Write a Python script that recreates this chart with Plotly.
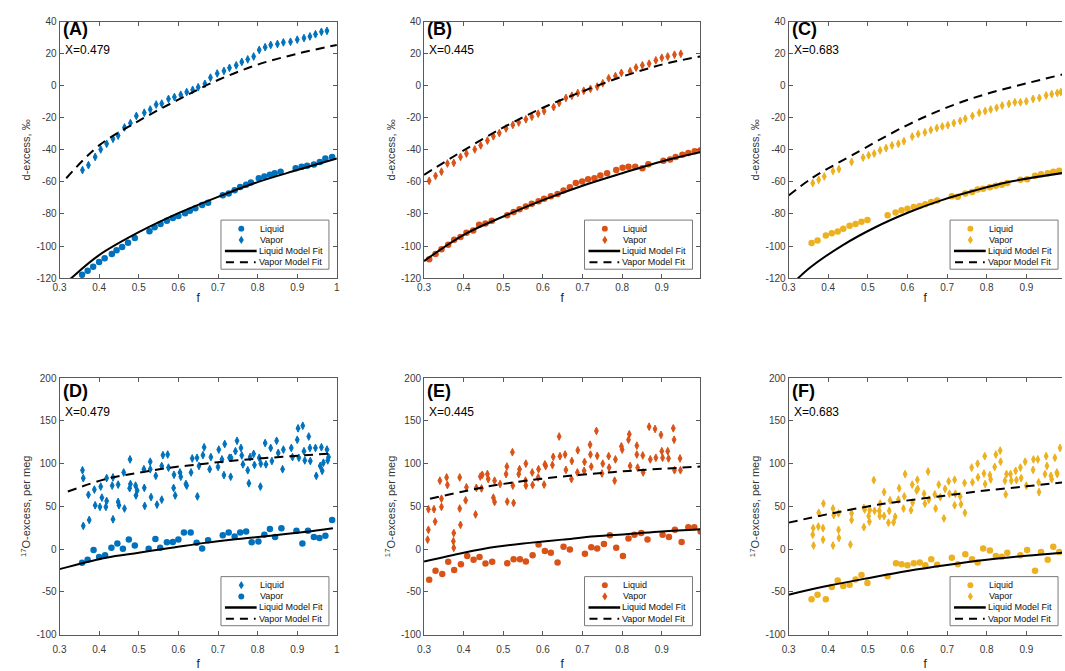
import plotly.graph_objects as go

BLUE, ORANGE, YELLOW = "#0072BD", "#D95319", "#EDB120"
FONT = "Liberation Sans, Arial, Helvetica, sans-serif"
AXC = "#5a5a5a"
TXC = "#3a3a3a"

# ---------------- tick labels ----------------
X_TICKS = [0.3, 0.4, 0.5, 0.6, 0.7, 0.8, 0.9, 1.0]
X_TICK_TEXT = ["0.3", "0.4", "0.5", "0.6", "0.7", "0.8", "0.9", "1"]
Y_TICKS_DX = [-120, -100, -80, -60, -40, -20, 0, 20, 40]
Y_TICK_TEXT_DX = ["-120", "-100", "-80", "-60", "-40", "-20", "0", "20", "40"]
Y_TICKS_O17 = [-100, -50, 0, 50, 100, 150, 200]
Y_TICK_TEXT_O17 = ["-100", "-50", "0", "50", "100", "150", "200"]

PANEL_LABELS = ["(A)", "(B)", "(C)", "(D)", "(E)", "(F)"]
X_LABELS = ["X=0.479", "X=0.445", "X=0.683", "X=0.479", "X=0.445", "X=0.683"]
LEGEND_NAMES = ["Liquid", "Vapor", "Liquid Model Fit", "Vapor Model Fit"]

# ---------------- Panel A: d-excess, X=0.479 ----------------
A_LIQ = [(0.357, -118), (0.371, -115.5), (0.385, -113), (0.400, -110), (0.414, -107.7),
         (0.432, -105), (0.444, -102.6), (0.458, -100.6), (0.473, -98), (0.490, -95),
         (0.527, -90.8), (0.540, -88.3), (0.555, -86.3), (0.571, -84.2), (0.586, -82.6),
         (0.600, -81.2), (0.617, -79.5), (0.629, -78), (0.643, -76.5), (0.660, -74.4),
         (0.675, -73), (0.712, -68.3), (0.727, -67.3), (0.742, -65.2), (0.756, -63.2),
         (0.771, -61.8), (0.783, -60.3), (0.803, -57.7), (0.817, -56.6), (0.831, -55.6),
         (0.843, -54.6), (0.858, -53.6), (0.896, -51.5), (0.911, -50.5), (0.925, -49.9),
         (0.942, -49.1), (0.957, -47.5), (0.971, -45.4), (0.988, -44.4)]
A_VAP = [(0.358, -52.6), (0.373, -49.5), (0.390, -44.4), (0.404, -39.7), (0.419, -36.2),
         (0.435, -33.1), (0.448, -31.1), (0.464, -26), (0.479, -23.3), (0.494, -18.8),
         (0.514, -16.8), (0.529, -14.8), (0.544, -11.7), (0.558, -11.1), (0.575, -8.2),
         (0.590, -7), (0.606, -5.6), (0.621, -3.9), (0.636, -2.5), (0.650, -0.9),
         (0.667, 1.2), (0.681, 5.1), (0.698, 7.7), (0.715, 9.3), (0.729, 11.2),
         (0.746, 12.8), (0.760, 14.9), (0.775, 16.5), (0.790, 18.3), (0.804, 22.4),
         (0.819, 24.1), (0.833, 25.5), (0.850, 26.1), (0.865, 27.1), (0.883, 27.5),
         (0.900, 28.8), (0.917, 29.8), (0.932, 30.8), (0.946, 32.2), (0.961, 33.7),
         (0.975, 34.3)]
A_LFIT = [(0.30, -127), (0.33, -120), (0.40, -105.7), (0.50, -91.4), (0.60, -79.5),
          (0.70, -69.3), (0.80, -60.1), (0.90, -52.6), (1.00, -45.4)]
A_VFIT = [(0.317, -57.7), (0.40, -37.2), (0.50, -21.9), (0.60, -8.6), (0.70, 3.6),
          (0.80, 13.2), (0.90, 20.0), (1.00, 25.5)]

# ---------------- Panel B: d-excess, X=0.445 ----------------
B_LIQ = [(0.313, -108.3), (0.329, -105), (0.344, -102), (0.361, -99.2), (0.376, -96.1),
         (0.392, -94.4), (0.407, -91.8), (0.424, -90.4), (0.439, -86.7), (0.455, -85.9),
         (0.471, -84.2), (0.510, -80.8), (0.526, -78.7), (0.541, -77.1), (0.557, -75.4),
         (0.572, -73.6), (0.589, -72), (0.603, -70.5), (0.620, -68.9), (0.637, -67.5),
         (0.652, -65.4), (0.668, -63.4), (0.683, -60.7), (0.699, -59.7), (0.714, -58.3),
         (0.730, -57.7), (0.745, -56), (0.762, -54.6), (0.785, -52.6), (0.801, -51.1),
         (0.816, -50.5), (0.833, -50.5), (0.851, -51.5), (0.866, -48.9), (0.904, -46.8),
         (0.921, -46), (0.935, -44.4), (0.952, -43), (0.967, -41.9), (0.983, -40.9),
         (0.998, -40.3)]
B_VAP = [(0.313, -59.3), (0.329, -56.2), (0.344, -53.6), (0.359, -48.5), (0.375, -48.1),
         (0.392, -44.4), (0.407, -42.3), (0.428, -39.7), (0.443, -37.2), (0.460, -34.2),
         (0.475, -31.5), (0.490, -29.5), (0.507, -26.6), (0.524, -24.4), (0.539, -22.9),
         (0.557, -20.9), (0.572, -19.3), (0.588, -17.4), (0.603, -15.8), (0.627, -13.3),
         (0.641, -10.7), (0.658, -7.6), (0.673, -6.2), (0.688, -4.5), (0.703, -3.1),
         (0.720, -1.9), (0.737, -0.5), (0.751, 1.6), (0.766, 4.7), (0.783, 6.1),
         (0.798, 8.1), (0.820, 9.1), (0.835, 11.4), (0.851, 12.8), (0.868, 13.8),
         (0.885, 15.9), (0.900, 17.5), (0.915, 18.3), (0.932, 19.4), (0.948, 20)]
B_LFIT = [(0.30, -109.4), (0.40, -93), (0.50, -81.6), (0.60, -71.4), (0.70, -62.4),
          (0.80, -54.6), (0.90, -47.2), (1.00, -41.3)]
B_VFIT = [(0.30, -55.6), (0.40, -40.3), (0.50, -26), (0.60, -13.7), (0.70, -3.5),
          (0.80, 5.7), (0.90, 13.2), (1.00, 18.5)]

# ---------------- Panel C: d-excess, X=0.683 ----------------
C_LIQ = [(0.358, -98.1), (0.373, -96.5), (0.394, -93.4), (0.409, -92), (0.424, -91),
         (0.438, -89.3), (0.454, -87.3), (0.469, -86.3), (0.484, -84.8), (0.499, -83.8),
         (0.550, -80.8), (0.570, -79.1), (0.585, -77.7), (0.600, -76.7), (0.616, -75.7),
         (0.631, -75), (0.645, -74), (0.660, -72.6), (0.675, -71.6), (0.712, -68.9),
         (0.727, -69.3), (0.746, -67.3), (0.763, -66.3), (0.777, -64.8), (0.791, -64.2),
         (0.808, -63.4), (0.823, -62.4), (0.838, -61.8), (0.852, -60.7), (0.885, -58.7),
         (0.902, -58.3), (0.922, -56.2), (0.937, -55.2), (0.954, -54.6), (0.968, -53.6),
         (0.983, -53)]
C_VAP = [(0.361, -60.7), (0.376, -58.7), (0.390, -56.6), (0.412, -53.2), (0.427, -52),
         (0.459, -47.5), (0.488, -44.8), (0.502, -43.4), (0.516, -42.3), (0.531, -40.3),
         (0.546, -38.9), (0.561, -37.2), (0.577, -36.2), (0.591, -34.6), (0.612, -31.7),
         (0.627, -30.1), (0.644, -29.1), (0.659, -27.6), (0.674, -26.4), (0.688, -25.4),
         (0.702, -24.6), (0.717, -23.3), (0.733, -21.9), (0.746, -20.5), (0.764, -18.8),
         (0.781, -16.8), (0.796, -15.8), (0.810, -14.8), (0.825, -13.7), (0.839, -12.3),
         (0.856, -11.3), (0.871, -10.3), (0.885, -10.3), (0.900, -9.7), (0.917, -8.2),
         (0.933, -7.6), (0.950, -6), (0.964, -5.2), (0.978, -4.5), (0.987, -3.9)]
C_LFIT = [(0.30, -126), (0.352, -113.9), (0.436, -99.6), (0.519, -88.3), (0.602, -79.1),
          (0.685, -71.5), (0.768, -65.5), (0.852, -60.2), (0.99, -54.5)]
C_VFIT = [(0.30, -68.5), (0.36, -57.5), (0.459, -43.5), (0.60, -24.5), (0.70, -13.5),
          (0.80, -5), (0.90, 1.5), (0.99, 7)]

# ---------------- Panel D: 17O-excess, X=0.479 ----------------
D_DIAM = [(0.358, 92.3), (0.360, 83), (0.360, 27.2), (0.373, 63.6), (0.375, 34.1),
          (0.388, 69.7), (0.390, 51.3), (0.402, 49.4), (0.404, 73.2), (0.407, 60.2),
          (0.417, 49.4), (0.419, 83.1), (0.419, 56.3), (0.433, 74.3), (0.435, 83.9),
          (0.435, 34.9), (0.448, 55.2), (0.448, 75.5), (0.450, 51.3), (0.462, 89.7),
          (0.464, 47.5), (0.477, 71.3), (0.478, 105), (0.479, 76.2), (0.492, 74.3),
          (0.493, 62.8), (0.496, 68.6), (0.513, 93.5), (0.514, 71.7), (0.515, 50.6),
          (0.529, 102.3), (0.529, 93.5), (0.531, 60.9), (0.543, 85.8), (0.546, 52.1),
          (0.558, 97.3), (0.558, 57.9), (0.561, 110), (0.573, 110.7), (0.575, 95.4),
          (0.588, 71.6), (0.589, 87), (0.592, 62.8), (0.604, 89.7), (0.606, 84.7),
          (0.619, 76.2), (0.621, 74.3), (0.632, 89.7), (0.635, 106.1), (0.647, 106.9),
          (0.648, 61.7), (0.652, 97.3), (0.662, 110), (0.665, 119.2), (0.679, 93.5),
          (0.682, 107.7), (0.700, 96.2), (0.702, 116.5), (0.710, 105), (0.715, 86.6),
          (0.717, 123), (0.729, 106.9), (0.732, 84.7), (0.733, 106.9), (0.744, 114.6),
          (0.748, 126.8), (0.758, 118.4), (0.760, 109.6), (0.763, 99.2), (0.775, 92.3),
          (0.778, 77), (0.781, 107.7), (0.790, 111.5), (0.792, 98.5), (0.804, 106.9),
          (0.807, 73.2), (0.808, 100), (0.819, 124.1), (0.821, 99.2), (0.833, 118.4),
          (0.836, 103.1), (0.848, 126.8), (0.852, 112.6), (0.863, 93.5), (0.865, 116.5),
          (0.885, 118.4), (0.888, 107.7), (0.900, 128), (0.902, 141.4), (0.904, 106.9),
          (0.914, 144.4), (0.917, 114.6), (0.919, 103.8), (0.929, 131.8), (0.932, 118.4),
          (0.933, 103.1), (0.946, 118.4), (0.948, 85.8), (0.958, 97.3), (0.961, 119.2),
          (0.963, 91.6), (0.966, 101.1), (0.975, 116.5), (0.977, 103.8), (0.979, 107.7)]
D_CIRC = [(0.357, -16), (0.371, -12.6), (0.386, -1.1), (0.400, -9.2), (0.415, -7.3),
          (0.431, 1.5), (0.446, 6.5), (0.460, 0.4), (0.475, 11.1), (0.490, 4.2),
          (0.525, 0.4), (0.542, 11.9), (0.554, 1.5), (0.571, 8.0), (0.586, 8.4),
          (0.600, 11.1), (0.614, 19.5), (0.631, 19.5), (0.646, 7.3), (0.660, 0.8),
          (0.675, 10.3), (0.712, 16.1), (0.727, 19.5), (0.742, 14.9), (0.756, 19.5),
          (0.771, 20.7), (0.785, 8.0), (0.802, 8.8), (0.817, 16.9), (0.831, 23.4),
          (0.844, 14.2), (0.860, 24.5), (0.898, 21.5), (0.913, 6.5), (0.927, 21.5),
          (0.942, 14.2), (0.956, 13), (0.971, 15.7), (0.988, 34.1)]
D_LFIT = [(0.30, -23.4), (0.417, -10), (0.50, -4.2), (0.583, 1.5), (0.667, 7.3),
          (0.75, 11.9), (0.833, 15.7), (0.917, 20), (0.99, 24.5)]
D_VFIT = [(0.321, 67.4), (0.417, 82), (0.50, 89.5), (0.583, 95.5), (0.667, 100),
          (0.75, 104), (0.833, 107), (0.917, 109.8), (0.99, 112)]

# ---------------- Panel E: 17O-excess, X=0.445 ----------------
E_LIQ = [(0.313, -36), (0.329, -25.3), (0.346, -29.1), (0.361, -14.9), (0.376, -24.5),
         (0.393, -17.6), (0.409, -8), (0.425, -12.6), (0.440, -9.2), (0.455, -16.9),
         (0.472, -14.9), (0.510, -16.5), (0.526, -11.9), (0.542, -11.9), (0.557, -14.6),
         (0.574, -7.3), (0.589, 5.4), (0.605, -2.3), (0.620, -4.2), (0.637, -15.7),
         (0.652, 2.7), (0.668, -0.4), (0.706, -5.4), (0.722, 2.3), (0.737, 0.8),
         (0.754, 6.1), (0.769, 16.1), (0.785, 1.5), (0.802, -8), (0.816, 12.3),
         (0.831, 16.9), (0.848, 18.8), (0.864, 11.1), (0.902, 16.9), (0.918, 14.2),
         (0.933, 22.6), (0.950, 8.4), (0.967, 25.7), (0.982, 25.7), (0.998, 20.7)]
E_VAP = [(0.309, 11.1), (0.311, 22.6), (0.311, 46.7), (0.325, 46.7), (0.328, 32.2),
         (0.340, 80.1), (0.344, 59), (0.344, 49.4), (0.357, 83.9), (0.359, 75.1),
         (0.374, 9.2), (0.375, 18.8), (0.375, 1.5), (0.390, 47.5), (0.392, 28.4),
         (0.390, 83.9), (0.405, 57.1), (0.407, 72.4), (0.430, 40.6), (0.432, 71.7),
         (0.442, 85), (0.447, 87), (0.445, 71), (0.460, 87.8), (0.462, 82),
         (0.475, 60.2), (0.478, 55.2), (0.478, 80.1), (0.492, 76.2), (0.507, 87.8),
         (0.509, 96.6), (0.510, 55.6), (0.523, 113.4), (0.524, 74.3), (0.526, 54),
         (0.539, 87.8), (0.541, 93.5), (0.556, 80.1), (0.557, 100), (0.557, 74.3),
         (0.573, 89.7), (0.574, 75.1), (0.588, 83.9), (0.589, 93.5), (0.603, 75.5),
         (0.605, 99.2), (0.607, 97.3), (0.624, 98.5), (0.626, 108), (0.641, 131.8),
         (0.643, 108.8), (0.656, 110.7), (0.658, 92.7), (0.672, 82), (0.673, 103.1),
         (0.687, 89.7), (0.688, 115.7), (0.704, 91.6), (0.705, 102), (0.719, 122.2),
         (0.720, 110.7), (0.722, 96.6), (0.735, 138.3), (0.737, 109.2), (0.749, 88.5),
         (0.751, 100), (0.766, 108.8), (0.767, 95.4), (0.781, 80.1), (0.783, 105),
         (0.798, 120.3), (0.800, 116.5), (0.816, 128), (0.818, 134.5), (0.820, 97.3),
         (0.837, 121.1), (0.837, 110.7), (0.839, 95.4), (0.852, 109.6), (0.853, 89.7),
         (0.868, 143.3), (0.871, 105), (0.883, 140.6), (0.885, 106.9), (0.898, 133.7),
         (0.900, 114.6), (0.902, 106.9), (0.915, 114.6), (0.917, 106.1), (0.929, 141.4),
         (0.931, 128), (0.932, 92.3), (0.946, 106.1), (0.947, 92.3)]
E_LFIT = [(0.30, -14.6), (0.40, -4.2), (0.482, 2.7), (0.566, 7.3), (0.649, 11.1),
          (0.733, 15), (0.816, 17.6), (0.90, 20.7), (1.00, 23.4)]
E_VFIT = [(0.315, 59), (0.399, 67.5), (0.482, 75), (0.566, 80.5), (0.649, 85),
          (0.733, 88.5), (0.816, 91.5), (0.90, 94), (1.00, 96.6)]

# ---------------- Panel F: 17O-excess, X=0.683 ----------------
F_LIQ = [(0.358, -58.6), (0.373, -53.3), (0.394, -58.6), (0.409, -44.4), (0.424, -36.8),
         (0.438, -43.3), (0.454, -41.8), (0.469, -35.6), (0.484, -30.3), (0.499, -39.8),
         (0.550, -31.8), (0.571, -16.5), (0.585, -17.6), (0.600, -18.8), (0.616, -16.5),
         (0.631, -15.7), (0.645, -18.8), (0.660, -11.9), (0.675, -18.4), (0.712, -10),
         (0.727, -17.6), (0.746, -6.1), (0.763, -11.9), (0.777, -15.7), (0.791, 0.8),
         (0.808, -1.5), (0.823, -8), (0.838, -8.8), (0.852, -4.2), (0.885, -7.3),
         (0.902, -1.1), (0.922, -25.3), (0.937, -3.4), (0.954, -12.6), (0.968, 2.7),
         (0.983, -3.4)]
F_VAP = [(0.361, 16.9), (0.362, 24.5), (0.363, 4.2), (0.375, 26.4), (0.376, 42.5),
         (0.387, 11.1), (0.387, 24.5), (0.388, 53.3), (0.412, 47.5), (0.412, 4.2),
         (0.414, 39.8), (0.426, 41.8), (0.426, 22.6), (0.427, 13), (0.456, 5.4),
         (0.459, 34.1), (0.459, 41.8), (0.490, 25.7), (0.490, 48.3), (0.492, 46.3),
         (0.502, 38.7), (0.504, 32.2), (0.505, 45.6), (0.515, 80.8), (0.517, 44.8),
         (0.529, 44.8), (0.530, 38.7), (0.531, 53.3), (0.541, 66.7), (0.541, 38.7),
         (0.552, 31), (0.554, 44.8), (0.556, 57.1), (0.565, 31.4), (0.569, 37.9),
         (0.577, 57.9), (0.579, 71.3), (0.590, 47.5), (0.592, 61.7), (0.594, 87.8),
         (0.609, 45.6), (0.612, 75.5), (0.613, 54.4), (0.623, 68.6), (0.625, 81.2),
         (0.626, 70.5), (0.642, 64.8), (0.644, 53.3), (0.652, 90.8), (0.654, 57.9),
         (0.669, 64), (0.671, 47.5), (0.679, 75.5), (0.683, 60.9), (0.692, 36),
         (0.695, 70.5), (0.704, 79.3), (0.706, 64.8), (0.719, 81.2), (0.719, 51.3),
         (0.721, 64.8), (0.733, 61.7), (0.735, 52.5), (0.744, 77.4), (0.745, 42.5),
         (0.762, 95.4), (0.764, 78.2), (0.777, 100), (0.778, 84), (0.793, 88.5),
         (0.795, 108.8), (0.796, 76.2), (0.808, 86.6), (0.810, 81.6), (0.820, 96.2),
         (0.823, 110.7), (0.834, 115.3), (0.835, 102.3), (0.846, 80.1), (0.848, 64),
         (0.850, 87.8), (0.860, 87.8), (0.862, 80.1), (0.873, 91.6), (0.875, 80.8),
         (0.885, 95.4), (0.887, 83.1), (0.897, 102.3), (0.900, 74.3), (0.917, 92.7),
         (0.918, 105), (0.929, 105), (0.931, 78.2), (0.932, 66.7), (0.947, 87.8),
         (0.950, 108.8), (0.952, 97.3), (0.962, 85.8), (0.964, 81.9), (0.972, 106.9),
         (0.977, 89.7), (0.978, 87.8), (0.985, 118.4)]
F_LFIT = [(0.30, -53.3), (0.40, -43), (0.50, -34), (0.60, -25.5), (0.70, -18.5),
          (0.80, -12.5), (0.90, -7.8), (0.99, -4.2)]
F_VFIT = [(0.30, 31), (0.40, 41), (0.50, 50), (0.5775, 55.5), (0.694, 62.5),
          (0.7775, 67.5), (0.90, 73.5), (0.99, 78)]

# ---------------- layout geometry (pixels) ----------------
W, H = 1065, 671
COLS = [(53, 333), (421, 700), (789, 1069)]   # third column runs past the window edge
ROWS = [(16, 277), (379, 640)]
DASH = "9px,6px"


def xs(pairs):
    return [p[0] for p in pairs]


def ys(pairs):
    return [p[1] for p in pairs]


def px(x):
    return x / W


def py(y):
    return 1 - y / H


# (points1, symbol1, points2, symbol2, liquid fit, vapor fit, color)
PANELS = [
    (A_LIQ, "circle", A_VAP, "diamond-tall", A_LFIT, A_VFIT, BLUE),
    (B_LIQ, "circle", B_VAP, "diamond-tall", B_LFIT, B_VFIT, ORANGE),
    (C_LIQ, "circle", C_VAP, "diamond-tall", C_LFIT, C_VFIT, YELLOW),
    (D_DIAM, "diamond-tall", D_CIRC, "circle", D_LFIT, D_VFIT, BLUE),
    (E_LIQ, "circle", E_VAP, "diamond-tall", E_LFIT, E_VFIT, ORANGE),
    (F_LIQ, "circle", F_VAP, "diamond-tall", F_LFIT, F_VFIT, YELLOW),
]


def marker(sym, col):
    if sym == "circle":
        return dict(symbol="circle", size=6.5, color=col, line=dict(width=0))
    return dict(symbol="diamond-tall", size=5.5, color=col, line=dict(width=1, color=col))


fig = go.Figure()
layout = dict(
    width=W, height=H, margin=dict(l=0, r=0, t=0, b=0),
    paper_bgcolor="white", plot_bgcolor="white",
    font=dict(family=FONT, size=10, color=TXC),
    showlegend=False, annotations=[], shapes=[],
)

for i, (p1, s1, p2, s2, lfit, vfit, col) in enumerate(PANELS):
    k = i + 1
    sfx = "" if k == 1 else str(k)
    xa, ya = "x" + sfx, "y" + sfx
    row, c = divmod(i, 3)
    x0, x1 = COLS[c]
    y0, y1 = ROWS[row]
    edge = (c == 2)

    fig.add_trace(go.Scatter(x=xs(p1), y=ys(p1), mode="markers", name=LEGEND_NAMES[0],
                             marker=marker(s1, col), xaxis=xa, yaxis=ya))
    fig.add_trace(go.Scatter(x=xs(p2), y=ys(p2), mode="markers", name=LEGEND_NAMES[1],
                             marker=marker(s2, col), xaxis=xa, yaxis=ya))
    fig.add_trace(go.Scatter(x=xs(lfit), y=ys(lfit), mode="lines", name=LEGEND_NAMES[2],
                             line=dict(color="black", width=2, shape="spline"),
                             xaxis=xa, yaxis=ya))
    fig.add_trace(go.Scatter(x=xs(vfit), y=ys(vfit), mode="lines", name=LEGEND_NAMES[3],
                             line=dict(color="black", width=2, dash=DASH, shape="spline"),
                             xaxis=xa, yaxis=ya))

    xr = [0.3, 0.3 + 0.7 * (min(x1, W) - x0) / 280.0]
    tv = [t for t in X_TICKS if t <= xr[1] + 1e-9]
    tt = X_TICK_TEXT[:len(tv)]
    layout["xaxis" + sfx] = dict(
        domain=[px(x0), px(min(x1, W))], anchor=ya, range=xr,
        tickvals=tv, ticktext=tt,
        showline=True, linecolor=AXC, linewidth=1, mirror="allticks",
        ticks="inside", ticklen=4, tickcolor=AXC, showgrid=False, zeroline=False,
        tickfont=dict(size=10, color=TXC, family=FONT),
        ticklabelstandoff=(0 if row == 0 else 5),
        title=dict(text="f", font=dict(size=12, color="#222"), standoff=(1 if row == 0 else 8)),
    )
    if row == 0:
        yt, ytt, yr, ytitle = Y_TICKS_DX, Y_TICK_TEXT_DX, [-120, 40], "d-excess, \u2030"
    else:
        yt, ytt, yr, ytitle = Y_TICKS_O17, Y_TICK_TEXT_O17, [-100, 200], "<sup>17</sup>O-excess, per meg"
    layout["yaxis" + sfx] = dict(
        domain=[py(y1), py(y0)], anchor=xa, range=yr,
        tickvals=yt, ticktext=ytt,
        showline=True, linecolor=AXC, linewidth=1,
        mirror=(False if edge else "allticks"),
        ticks="inside", ticklen=4, tickcolor=AXC, showgrid=False, zeroline=False,
        tickfont=dict(size=10, color=TXC, family=FONT),
        title=dict(text=ytitle, font=dict(size=11, color="#333"), standoff=3),
    )

    # panel letters and X labels
    top_off = 0 if row == 0 else 6
    layout["annotations"].append(dict(
        text=PANEL_LABELS[i], xref=xa + " domain", yref=ya + " domain",
        x=0.0, y=1.0, xanchor="left", yanchor="top", showarrow=False, yshift=5 - top_off,
        xshift=1, font=dict(size=18, color="black", family=FONT, weight="bold")))
    layout["annotations"].append(dict(
        text=X_LABELS[i], xref=xa + " domain", yref=ya + " domain",
        x=0.0, y=1.0, xanchor="left", yanchor="middle", showarrow=False,
        yshift=-(28 + top_off), xshift=3,
        font=dict(size=12, color="black", family=FONT)))

    # compact MATLAB-style legend box in the lower-right corner
    R = x1 - 8
    B = y1 - 9
    L = R - 109
    T = B - 50
    layout["shapes"].append(dict(type="rect", xref="paper", yref="paper",
                                 x0=px(L), x1=px(R), y0=py(B), y1=py(T),
                                 fillcolor="white", line=dict(color="#7a7a7a", width=1), layer="above"))
    rows_y = [T + 8.7, T + 20.2, T + 31.4, T + 42.8]
    syms = [s1, s2]
    cx = L + 20.5
    for j in range(2):
        cy = rows_y[j]
        if syms[j] == "circle":
            layout["shapes"].append(dict(type="circle", xref="paper", yref="paper",
                                         x0=px(cx - 3), x1=px(cx + 3), y0=py(cy + 3), y1=py(cy - 3),
                                         fillcolor=col, line=dict(width=0), layer="above"))
        else:
            path = "M{:.5f},{:.5f} L{:.5f},{:.5f} L{:.5f},{:.5f} L{:.5f},{:.5f} Z".format(
                px(cx), py(cy - 4.2), px(cx + 2.6), py(cy), px(cx), py(cy + 4.2), px(cx - 2.6), py(cy))
            layout["shapes"].append(dict(type="path", xref="paper", yref="paper", path=path,
                                         fillcolor=col, line=dict(width=0), layer="above"))
    layout["shapes"].append(dict(type="line", xref="paper", yref="paper",
                                 x0=px(L + 4), x1=px(L + 36), y0=py(rows_y[2]), y1=py(rows_y[2]),
                                 line=dict(color="black", width=2.5), layer="above"))
    layout["shapes"].append(dict(type="line", xref="paper", yref="paper",
                                 x0=px(L + 5), x1=px(L + 35), y0=py(rows_y[3]), y1=py(rows_y[3]),
                                 line=dict(color="black", width=2, dash="8px,6px"), layer="above"))
    for j, name in enumerate(LEGEND_NAMES):
        layout["annotations"].append(dict(
            text=name, xref="paper", yref="paper", x=px(L + (37 if j >= 2 else 38)), y=py(rows_y[j]),
            xanchor="left", yanchor="middle", showarrow=False, borderpad=0,
            font=dict(size=9, color="#111", family=FONT)))

fig.update_layout(**layout)
fig.write_html("out.html")
